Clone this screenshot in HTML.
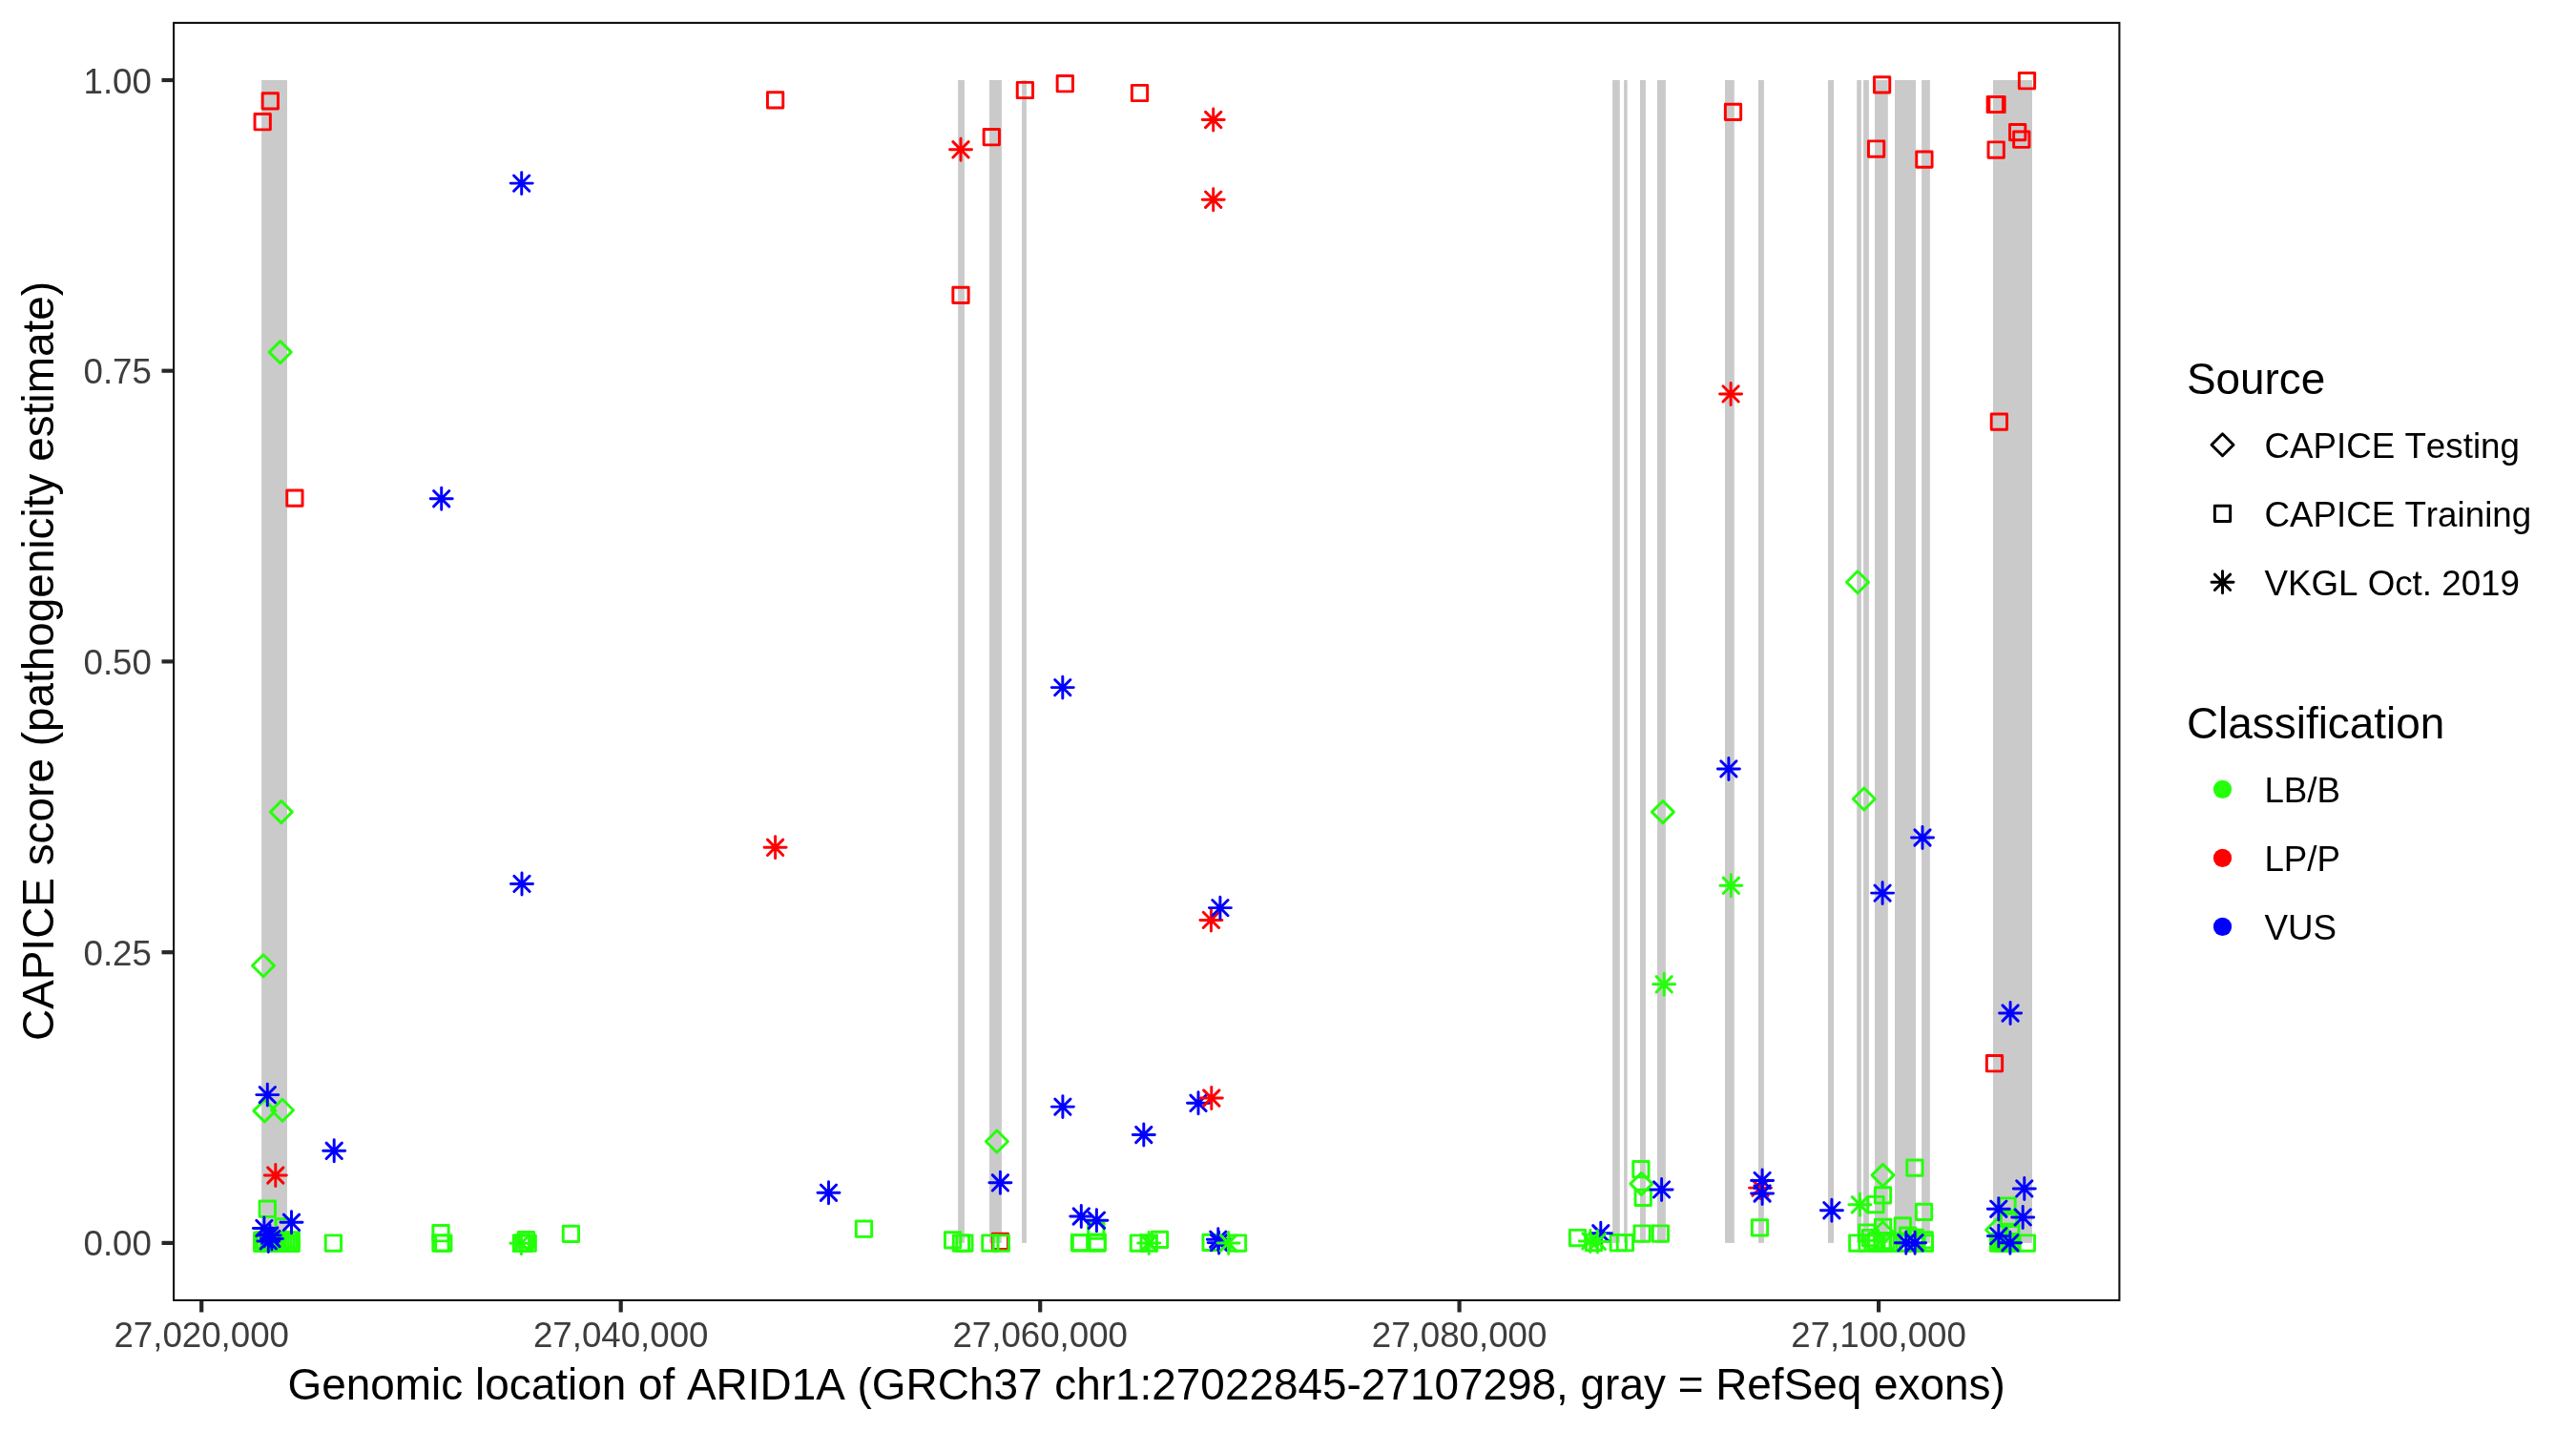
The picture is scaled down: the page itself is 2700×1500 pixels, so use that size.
<!DOCTYPE html>
<html lang="en"><head><meta charset="utf-8"><title>CAPICE score ARID1A</title>
<style>
html,body{margin:0;padding:0;background:#fff}
svg{display:block;will-change:transform}
text{font-family:"Liberation Sans",Arial,Helvetica,sans-serif;font-kerning:none;font-variant-ligatures:none}
.ax{font-size:36.7px;fill:#3D3D3D}
.ti{font-size:45.92px;fill:#000}
.lg{font-size:36.76px;fill:#000}
</style></head><body>
<svg width="2700" height="1500" viewBox="0 0 2700 1500">
<rect x="0" y="0" width="2700" height="1500" fill="#fff"/>

<g fill="#CACACA">
<rect x="274.1" y="84.0" width="26.9" height="1218.9"/>
<rect x="1004.1" y="84.0" width="6.8" height="1218.9"/>
<rect x="1037.0" y="84.0" width="12.9" height="1218.9"/>
<rect x="1071.1" y="84.0" width="4.8" height="1218.9"/>
<rect x="1690.1" y="84.0" width="7.7" height="1218.9"/>
<rect x="1702.1" y="84.0" width="3.6" height="1218.9"/>
<rect x="1719.0" y="84.0" width="5.9" height="1218.9"/>
<rect x="1737.0" y="84.0" width="8.9" height="1218.9"/>
<rect x="1808.0" y="84.0" width="9.8" height="1218.9"/>
<rect x="1843.0" y="84.0" width="5.9" height="1218.9"/>
<rect x="1916.0" y="84.0" width="6.0" height="1218.9"/>
<rect x="1946.2" y="84.0" width="4.7" height="1218.9"/>
<rect x="1953.1" y="84.0" width="5.8" height="1218.9"/>
<rect x="1965.0" y="84.0" width="13.8" height="1218.9"/>
<rect x="1986.0" y="84.0" width="22.0" height="1218.9"/>
<rect x="2014.1" y="84.0" width="8.8" height="1218.9"/>
<rect x="2089.0" y="84.0" width="41.0" height="1218.9"/>
</g>
<g fill="none" stroke-width="2.95" stroke-linejoin="round" stroke-linecap="round">
<rect x="275.15" y="97.75" width="16.30" height="16.30" stroke="#FF0000"/>
<rect x="267.05" y="119.55" width="16.30" height="16.30" stroke="#FF0000"/>
<rect x="804.45" y="96.75" width="16.30" height="16.30" stroke="#FF0000"/>
<rect x="1031.15" y="135.55" width="16.30" height="16.30" stroke="#FF0000"/>
<rect x="1066.25" y="86.35" width="16.30" height="16.30" stroke="#FF0000"/>
<rect x="1108.15" y="79.55" width="16.30" height="16.30" stroke="#FF0000"/>
<rect x="1186.35" y="89.35" width="16.30" height="16.30" stroke="#FF0000"/>
<rect x="998.85" y="301.15" width="16.30" height="16.30" stroke="#FF0000"/>
<rect x="1808.35" y="109.25" width="16.30" height="16.30" stroke="#FF0000"/>
<rect x="1964.45" y="80.65" width="16.30" height="16.30" stroke="#FF0000"/>
<rect x="1958.45" y="147.85" width="16.30" height="16.30" stroke="#FF0000"/>
<rect x="2008.75" y="158.95" width="16.30" height="16.30" stroke="#FF0000"/>
<rect x="2116.35" y="76.55" width="16.30" height="16.30" stroke="#FF0000"/>
<rect x="2083.15" y="101.35" width="16.30" height="16.30" stroke="#FF0000"/>
<rect x="2084.85" y="101.35" width="16.30" height="16.30" stroke="#FF0000"/>
<rect x="2106.55" y="130.45" width="16.30" height="16.30" stroke="#FF0000"/>
<rect x="2110.65" y="138.05" width="16.30" height="16.30" stroke="#FF0000"/>
<rect x="2084.05" y="148.85" width="16.30" height="16.30" stroke="#FF0000"/>
<rect x="300.75" y="513.95" width="16.30" height="16.30" stroke="#FF0000"/>
<rect x="2087.25" y="434.05" width="16.30" height="16.30" stroke="#FF0000"/>
<rect x="2082.35" y="1106.55" width="16.30" height="16.30" stroke="#FF0000"/>
<rect x="1040.25" y="1293.15" width="16.30" height="16.30" stroke="#FF0000"/>
<path d="M282.20 369.10L293.70 357.60L305.20 369.10L293.70 380.60Z" stroke="#24FF0A"/>
<path d="M1935.50 610.20L1947.00 598.70L1958.50 610.20L1947.00 621.70Z" stroke="#24FF0A"/>
<path d="M283.30 851.10L294.80 839.60L306.30 851.10L294.80 862.60Z" stroke="#24FF0A"/>
<path d="M264.50 1012.20L276.00 1000.70L287.50 1012.20L276.00 1023.70Z" stroke="#24FF0A"/>
<path d="M265.80 1164.40L277.30 1152.90L288.80 1164.40L277.30 1175.90Z" stroke="#24FF0A"/>
<path d="M284.50 1163.70L296.00 1152.20L307.50 1163.70L296.00 1175.20Z" stroke="#24FF0A"/>
<path d="M1731.40 851.10L1742.90 839.60L1754.40 851.10L1742.90 862.60Z" stroke="#24FF0A"/>
<path d="M1942.30 837.50L1953.80 826.00L1965.30 837.50L1953.80 849.00Z" stroke="#24FF0A"/>
<path d="M1033.40 1196.50L1044.90 1185.00L1056.40 1196.50L1044.90 1208.00Z" stroke="#24FF0A"/>
<path d="M1708.90 1240.90L1720.40 1229.40L1731.90 1240.90L1720.40 1252.40Z" stroke="#24FF0A"/>
<path d="M1962.00 1231.90L1973.50 1220.40L1985.00 1231.90L1973.50 1243.40Z" stroke="#24FF0A"/>
<path d="M1961.90 1292.20L1973.40 1280.70L1984.90 1292.20L1973.40 1303.70Z" stroke="#24FF0A"/>
<path d="M2081.60 1289.30L2093.10 1277.80L2104.60 1289.30L2093.10 1300.80Z" stroke="#24FF0A"/>
<rect x="272.15" y="1259.05" width="16.30" height="16.30" stroke="#24FF0A"/>
<rect x="289.05" y="1277.75" width="16.30" height="16.30" stroke="#24FF0A"/>
<rect x="266.65" y="1295.15" width="16.30" height="16.30" stroke="#24FF0A"/>
<rect x="266.65" y="1291.85" width="16.30" height="16.30" stroke="#24FF0A"/>
<rect x="297.05" y="1291.85" width="16.30" height="16.30" stroke="#24FF0A"/>
<rect x="269.35" y="1291.85" width="16.30" height="16.30" stroke="#24FF0A"/>
<rect x="272.85" y="1295.15" width="16.30" height="16.30" stroke="#24FF0A"/>
<rect x="275.85" y="1291.85" width="16.30" height="16.30" stroke="#24FF0A"/>
<rect x="278.85" y="1295.15" width="16.30" height="16.30" stroke="#24FF0A"/>
<rect x="282.35" y="1291.85" width="16.30" height="16.30" stroke="#24FF0A"/>
<rect x="285.35" y="1295.15" width="16.30" height="16.30" stroke="#24FF0A"/>
<rect x="288.35" y="1291.85" width="16.30" height="16.30" stroke="#24FF0A"/>
<rect x="291.35" y="1295.15" width="16.30" height="16.30" stroke="#24FF0A"/>
<rect x="294.35" y="1291.85" width="16.30" height="16.30" stroke="#24FF0A"/>
<rect x="297.05" y="1295.15" width="16.30" height="16.30" stroke="#24FF0A"/>
<rect x="341.25" y="1294.85" width="16.30" height="16.30" stroke="#24FF0A"/>
<rect x="453.85" y="1284.55" width="16.30" height="16.30" stroke="#24FF0A"/>
<rect x="453.85" y="1294.85" width="16.30" height="16.30" stroke="#24FF0A"/>
<rect x="456.65" y="1294.85" width="16.30" height="16.30" stroke="#24FF0A"/>
<rect x="538.35" y="1294.85" width="16.30" height="16.30" stroke="#24FF0A"/>
<rect x="540.85" y="1294.85" width="16.30" height="16.30" stroke="#24FF0A"/>
<rect x="545.05" y="1294.85" width="16.30" height="16.30" stroke="#24FF0A"/>
<rect x="543.25" y="1291.55" width="16.30" height="16.30" stroke="#24FF0A"/>
<rect x="590.25" y="1285.25" width="16.30" height="16.30" stroke="#24FF0A"/>
<rect x="897.35" y="1280.05" width="16.30" height="16.30" stroke="#24FF0A"/>
<rect x="990.45" y="1291.75" width="16.30" height="16.30" stroke="#24FF0A"/>
<rect x="999.25" y="1294.85" width="16.30" height="16.30" stroke="#24FF0A"/>
<rect x="1002.75" y="1294.85" width="16.30" height="16.30" stroke="#24FF0A"/>
<rect x="1029.75" y="1294.85" width="16.30" height="16.30" stroke="#24FF0A"/>
<rect x="1041.15" y="1294.85" width="16.30" height="16.30" stroke="#24FF0A"/>
<rect x="1140.65" y="1281.85" width="16.30" height="16.30" stroke="#24FF0A"/>
<rect x="1123.35" y="1294.35" width="16.30" height="16.30" stroke="#24FF0A"/>
<rect x="1124.35" y="1294.65" width="16.30" height="16.30" stroke="#24FF0A"/>
<rect x="1141.85" y="1294.85" width="16.30" height="16.30" stroke="#24FF0A"/>
<rect x="1142.15" y="1293.85" width="16.30" height="16.30" stroke="#24FF0A"/>
<rect x="1185.25" y="1294.85" width="16.30" height="16.30" stroke="#24FF0A"/>
<rect x="1196.05" y="1294.85" width="16.30" height="16.30" stroke="#24FF0A"/>
<rect x="1207.35" y="1291.15" width="16.30" height="16.30" stroke="#24FF0A"/>
<rect x="1260.95" y="1294.15" width="16.30" height="16.30" stroke="#24FF0A"/>
<rect x="1289.35" y="1294.85" width="16.30" height="16.30" stroke="#24FF0A"/>
<rect x="1645.35" y="1289.35" width="16.30" height="16.30" stroke="#24FF0A"/>
<rect x="1662.45" y="1294.35" width="16.30" height="16.30" stroke="#24FF0A"/>
<rect x="1688.15" y="1294.55" width="16.30" height="16.30" stroke="#24FF0A"/>
<rect x="1695.25" y="1294.55" width="16.30" height="16.30" stroke="#24FF0A"/>
<rect x="1712.95" y="1284.85" width="16.30" height="16.30" stroke="#24FF0A"/>
<rect x="1732.25" y="1284.85" width="16.30" height="16.30" stroke="#24FF0A"/>
<rect x="1711.75" y="1217.55" width="16.30" height="16.30" stroke="#24FF0A"/>
<rect x="1714.05" y="1247.15" width="16.30" height="16.30" stroke="#24FF0A"/>
<rect x="1836.35" y="1278.65" width="16.30" height="16.30" stroke="#24FF0A"/>
<rect x="1957.85" y="1254.35" width="16.30" height="16.30" stroke="#24FF0A"/>
<rect x="1965.35" y="1244.65" width="16.30" height="16.30" stroke="#24FF0A"/>
<rect x="1998.75" y="1215.95" width="16.30" height="16.30" stroke="#24FF0A"/>
<rect x="2008.35" y="1262.25" width="16.30" height="16.30" stroke="#24FF0A"/>
<rect x="1965.45" y="1278.25" width="16.30" height="16.30" stroke="#24FF0A"/>
<rect x="1986.15" y="1276.75" width="16.30" height="16.30" stroke="#24FF0A"/>
<rect x="1948.65" y="1284.05" width="16.30" height="16.30" stroke="#24FF0A"/>
<rect x="1938.65" y="1294.85" width="16.30" height="16.30" stroke="#24FF0A"/>
<rect x="1948.85" y="1294.85" width="16.30" height="16.30" stroke="#24FF0A"/>
<rect x="1957.85" y="1294.85" width="16.30" height="16.30" stroke="#24FF0A"/>
<rect x="1964.85" y="1294.85" width="16.30" height="16.30" stroke="#24FF0A"/>
<rect x="1971.85" y="1294.85" width="16.30" height="16.30" stroke="#24FF0A"/>
<rect x="1981.85" y="1294.85" width="16.30" height="16.30" stroke="#24FF0A"/>
<rect x="1991.45" y="1294.85" width="16.30" height="16.30" stroke="#24FF0A"/>
<rect x="2000.85" y="1294.85" width="16.30" height="16.30" stroke="#24FF0A"/>
<rect x="2009.35" y="1294.85" width="16.30" height="16.30" stroke="#24FF0A"/>
<rect x="1991.45" y="1287.05" width="16.30" height="16.30" stroke="#24FF0A"/>
<rect x="1998.95" y="1289.15" width="16.30" height="16.30" stroke="#24FF0A"/>
<rect x="2009.05" y="1291.75" width="16.30" height="16.30" stroke="#24FF0A"/>
<rect x="1952.35" y="1289.35" width="16.30" height="16.30" stroke="#24FF0A"/>
<rect x="1958.75" y="1292.35" width="16.30" height="16.30" stroke="#24FF0A"/>
<rect x="1968.85" y="1292.35" width="16.30" height="16.30" stroke="#24FF0A"/>
<rect x="2095.85" y="1255.85" width="16.30" height="16.30" stroke="#24FF0A"/>
<rect x="2097.35" y="1269.15" width="16.30" height="16.30" stroke="#24FF0A"/>
<rect x="2099.65" y="1283.25" width="16.30" height="16.30" stroke="#24FF0A"/>
<rect x="2088.35" y="1293.35" width="16.30" height="16.30" stroke="#24FF0A"/>
<rect x="2093.35" y="1293.35" width="16.30" height="16.30" stroke="#24FF0A"/>
<rect x="2098.85" y="1293.35" width="16.30" height="16.30" stroke="#24FF0A"/>
<rect x="2086.35" y="1294.85" width="16.30" height="16.30" stroke="#24FF0A"/>
<rect x="2090.85" y="1294.85" width="16.30" height="16.30" stroke="#24FF0A"/>
<rect x="2095.85" y="1294.85" width="16.30" height="16.30" stroke="#24FF0A"/>
<rect x="2100.85" y="1294.85" width="16.30" height="16.30" stroke="#24FF0A"/>
<rect x="2116.25" y="1294.85" width="16.30" height="16.30" stroke="#24FF0A"/>
<path d="M538.56 183.96L554.84 200.24M538.56 200.24L554.84 183.96M535.20 192.10L558.20 192.10M546.70 180.60L546.70 203.60" stroke="#0000FF"/>
<path d="M998.86 148.66L1015.14 164.94M998.86 164.94L1015.14 148.66M995.50 156.80L1018.50 156.80M1007.00 145.30L1007.00 168.30" stroke="#FF0000"/>
<path d="M1263.56 117.36L1279.84 133.64M1263.56 133.64L1279.84 117.36M1260.20 125.50L1283.20 125.50M1271.70 114.00L1271.70 137.00" stroke="#FF0000"/>
<path d="M1263.56 201.06L1279.84 217.34M1263.56 217.34L1279.84 201.06M1260.20 209.20L1283.20 209.20M1271.70 197.70L1271.70 220.70" stroke="#FF0000"/>
<path d="M454.56 514.56L470.84 530.84M454.56 530.84L470.84 514.56M451.20 522.70L474.20 522.70M462.70 511.20L462.70 534.20" stroke="#0000FF"/>
<path d="M1105.66 712.46L1121.94 728.74M1105.66 728.74L1121.94 712.46M1102.30 720.60L1125.30 720.60M1113.80 709.10L1113.80 732.10" stroke="#0000FF"/>
<path d="M1805.96 404.76L1822.24 421.04M1805.96 421.04L1822.24 404.76M1802.60 412.90L1825.60 412.90M1814.10 401.40L1814.10 424.40" stroke="#FF0000"/>
<path d="M538.86 918.26L555.14 934.54M538.86 934.54L555.14 918.26M535.50 926.40L558.50 926.40M547.00 914.90L547.00 937.90" stroke="#0000FF"/>
<path d="M804.46 880.16L820.74 896.44M804.46 896.44L820.74 880.16M801.10 888.30L824.10 888.30M812.60 876.80L812.60 899.80" stroke="#FF0000"/>
<path d="M272.16 1139.46L288.44 1155.74M272.16 1155.74L288.44 1139.46M268.80 1147.60L291.80 1147.60M280.30 1136.10L280.30 1159.10" stroke="#0000FF"/>
<path d="M1261.26 956.26L1277.54 972.54M1261.26 972.54L1277.54 956.26M1257.90 964.40L1280.90 964.40M1269.40 952.90L1269.40 975.90" stroke="#FF0000"/>
<path d="M1270.76 943.46L1287.04 959.74M1270.76 959.74L1287.04 943.46M1267.40 951.60L1290.40 951.60M1278.90 940.10L1278.90 963.10" stroke="#0000FF"/>
<path d="M1105.76 1151.96L1122.04 1168.24M1105.76 1168.24L1122.04 1151.96M1102.40 1160.10L1125.40 1160.10M1113.90 1148.60L1113.90 1171.60" stroke="#0000FF"/>
<path d="M1247.86 1148.16L1264.14 1164.44M1247.86 1164.44L1264.14 1148.16M1244.50 1156.30L1267.50 1156.30M1256.00 1144.80L1256.00 1167.80" stroke="#0000FF"/>
<path d="M1261.66 1142.86L1277.94 1159.14M1261.66 1159.14L1277.94 1142.86M1258.30 1151.00L1281.30 1151.00M1269.80 1139.50L1269.80 1162.50" stroke="#FF0000"/>
<path d="M1190.66 1181.36L1206.94 1197.64M1190.66 1197.64L1206.94 1181.36M1187.30 1189.50L1210.30 1189.50M1198.80 1178.00L1198.80 1201.00" stroke="#0000FF"/>
<path d="M1803.76 797.76L1820.04 814.04M1803.76 814.04L1820.04 797.76M1800.40 805.90L1823.40 805.90M1811.90 794.40L1811.90 817.40" stroke="#0000FF"/>
<path d="M2006.86 869.86L2023.14 886.14M2006.86 886.14L2023.14 869.86M2003.50 878.00L2026.50 878.00M2015.00 866.50L2015.00 889.50" stroke="#0000FF"/>
<path d="M1806.26 920.16L1822.54 936.44M1806.26 936.44L1822.54 920.16M1802.90 928.30L1825.90 928.30M1814.40 916.80L1814.40 939.80" stroke="#24FF0A"/>
<path d="M1964.96 927.96L1981.24 944.24M1964.96 944.24L1981.24 927.96M1961.60 936.10L1984.60 936.10M1973.10 924.60L1973.10 947.60" stroke="#0000FF"/>
<path d="M1736.06 1023.66L1752.34 1039.94M1736.06 1039.94L1752.34 1023.66M1732.70 1031.80L1755.70 1031.80M1744.20 1020.30L1744.20 1043.30" stroke="#24FF0A"/>
<path d="M2098.96 1053.86L2115.24 1070.14M2098.96 1070.14L2115.24 1053.86M2095.60 1062.00L2118.60 1062.00M2107.10 1050.50L2107.10 1073.50" stroke="#0000FF"/>
<path d="M342.06 1198.16L358.34 1214.44M342.06 1214.44L358.34 1198.16M338.70 1206.30L361.70 1206.30M350.20 1194.80L350.20 1217.80" stroke="#0000FF"/>
<path d="M280.66 1223.86L296.94 1240.14M280.66 1240.14L296.94 1223.86M277.30 1232.00L300.30 1232.00M288.80 1220.50L288.80 1243.50" stroke="#FF0000"/>
<path d="M297.36 1273.16L313.64 1289.44M297.36 1289.44L313.64 1273.16M294.00 1281.30L317.00 1281.30M305.50 1269.80L305.50 1292.80" stroke="#0000FF"/>
<path d="M268.76 1279.26L285.04 1295.54M268.76 1295.54L285.04 1279.26M265.40 1287.40L288.40 1287.40M276.90 1275.90L276.90 1298.90" stroke="#0000FF"/>
<path d="M274.66 1286.86L290.94 1303.14M274.66 1303.14L290.94 1286.86M271.30 1295.00L294.30 1295.00M282.80 1283.50L282.80 1306.50" stroke="#0000FF"/>
<path d="M276.76 1290.36L293.04 1306.64M276.76 1306.64L293.04 1290.36M273.40 1298.50L296.40 1298.50M284.90 1287.00L284.90 1310.00" stroke="#0000FF"/>
<path d="M273.16 1292.76L289.44 1309.04M273.16 1309.04L289.44 1292.76M269.80 1300.90L292.80 1300.90M281.30 1289.40L281.30 1312.40" stroke="#0000FF"/>
<path d="M538.26 1295.06L554.54 1311.34M538.26 1311.34L554.54 1295.06M534.90 1303.20L557.90 1303.20M546.40 1291.70L546.40 1314.70" stroke="#24FF0A"/>
<path d="M860.36 1242.06L876.64 1258.34M860.36 1258.34L876.64 1242.06M857.00 1250.20L880.00 1250.20M868.50 1238.70L868.50 1261.70" stroke="#0000FF"/>
<path d="M1040.26 1231.66L1056.54 1247.94M1040.26 1247.94L1056.54 1231.66M1036.90 1239.80L1059.90 1239.80M1048.40 1228.30L1048.40 1251.30" stroke="#0000FF"/>
<path d="M1125.16 1266.86L1141.44 1283.14M1125.16 1283.14L1141.44 1266.86M1121.80 1275.00L1144.80 1275.00M1133.30 1263.50L1133.30 1286.50" stroke="#0000FF"/>
<path d="M1141.26 1271.06L1157.54 1287.34M1141.26 1287.34L1157.54 1271.06M1137.90 1279.20L1160.90 1279.20M1149.40 1267.70L1149.40 1290.70" stroke="#0000FF"/>
<path d="M1196.06 1294.86L1212.34 1311.14M1196.06 1311.14L1212.34 1294.86M1192.70 1303.00L1215.70 1303.00M1204.20 1291.50L1204.20 1314.50" stroke="#24FF0A"/>
<path d="M1268.66 1291.06L1284.94 1307.34M1268.66 1307.34L1284.94 1291.06M1265.30 1299.20L1288.30 1299.20M1276.80 1287.70L1276.80 1310.70" stroke="#0000FF"/>
<path d="M1269.46 1294.46L1285.74 1310.74M1269.46 1310.74L1285.74 1294.46M1266.10 1302.60L1289.10 1302.60M1277.60 1291.10L1277.60 1314.10" stroke="#0000FF"/>
<path d="M1279.46 1294.86L1295.74 1311.14M1279.46 1311.14L1295.74 1294.86M1276.10 1303.00L1299.10 1303.00M1287.60 1291.50L1287.60 1314.50" stroke="#24FF0A"/>
<path d="M1669.66 1284.66L1685.94 1300.94M1669.66 1300.94L1685.94 1284.66M1666.30 1292.80L1689.30 1292.80M1677.80 1281.30L1677.80 1304.30" stroke="#0000FF"/>
<path d="M1658.76 1292.76L1675.04 1309.04M1658.76 1309.04L1675.04 1292.76M1655.40 1300.90L1678.40 1300.90M1666.90 1289.40L1666.90 1312.40" stroke="#24FF0A"/>
<path d="M1666.26 1293.26L1682.54 1309.54M1666.26 1309.54L1682.54 1293.26M1662.90 1301.40L1685.90 1301.40M1674.40 1289.90L1674.40 1312.90" stroke="#24FF0A"/>
<path d="M1733.46 1238.76L1749.74 1255.04M1733.46 1255.04L1749.74 1238.76M1730.10 1246.90L1753.10 1246.90M1741.60 1235.40L1741.60 1258.40" stroke="#0000FF"/>
<path d="M1836.86 1236.96L1853.14 1253.24M1836.86 1253.24L1853.14 1236.96M1833.50 1245.10L1856.50 1245.10M1845.00 1233.60L1845.00 1256.60" stroke="#FF0000"/>
<path d="M1838.96 1229.26L1855.24 1245.54M1838.96 1245.54L1855.24 1229.26M1835.60 1237.40L1858.60 1237.40M1847.10 1225.90L1847.10 1248.90" stroke="#0000FF"/>
<path d="M1838.96 1242.86L1855.24 1259.14M1838.96 1259.14L1855.24 1242.86M1835.60 1251.00L1858.60 1251.00M1847.10 1239.50L1847.10 1262.50" stroke="#0000FF"/>
<path d="M1911.76 1260.56L1928.04 1276.84M1911.76 1276.84L1928.04 1260.56M1908.40 1268.70L1931.40 1268.70M1919.90 1257.20L1919.90 1280.20" stroke="#0000FF"/>
<path d="M1941.26 1254.66L1957.54 1270.94M1941.26 1270.94L1957.54 1254.66M1937.90 1262.80L1960.90 1262.80M1949.40 1251.30L1949.40 1274.30" stroke="#24FF0A"/>
<path d="M1989.66 1294.56L2005.94 1310.84M1989.66 1310.84L2005.94 1294.56M1986.30 1302.70L2009.30 1302.70M1997.80 1291.20L1997.80 1314.20" stroke="#0000FF"/>
<path d="M1998.96 1294.56L2015.24 1310.84M1998.96 1310.84L2015.24 1294.56M1995.60 1302.70L2018.60 1302.70M2007.10 1291.20L2007.10 1314.20" stroke="#0000FF"/>
<path d="M2113.66 1237.76L2129.94 1254.04M2113.66 1254.04L2129.94 1237.76M2110.30 1245.90L2133.30 1245.90M2121.80 1234.40L2121.80 1257.40" stroke="#0000FF"/>
<path d="M2086.66 1259.06L2102.94 1275.34M2086.66 1275.34L2102.94 1259.06M2083.30 1267.20L2106.30 1267.20M2094.80 1255.70L2094.80 1278.70" stroke="#0000FF"/>
<path d="M2112.06 1267.76L2128.34 1284.04M2112.06 1284.04L2128.34 1267.76M2108.70 1275.90L2131.70 1275.90M2120.20 1264.40L2120.20 1287.40" stroke="#0000FF"/>
<path d="M2086.66 1287.46L2102.94 1303.74M2086.66 1303.74L2102.94 1287.46M2083.30 1295.60L2106.30 1295.60M2094.80 1284.10L2094.80 1307.10" stroke="#0000FF"/>
<path d="M2098.76 1294.56L2115.04 1310.84M2098.76 1310.84L2115.04 1294.56M2095.40 1302.70L2118.40 1302.70M2106.90 1291.20L2106.90 1314.20" stroke="#0000FF"/>
</g>
<rect x="182.1" y="23.95" width="2039.3" height="1339.0" fill="none" stroke="#111111" stroke-width="2.1"/>
<g stroke="#272727" stroke-width="4.2">
<line x1="169.5" y1="84.0" x2="181" y2="84.0"/>
<line x1="169.5" y1="388.7" x2="181" y2="388.7"/>
<line x1="169.5" y1="693.4" x2="181" y2="693.4"/>
<line x1="169.5" y1="998.2" x2="181" y2="998.2"/>
<line x1="169.5" y1="1302.9" x2="181" y2="1302.9"/>
<line x1="211.2" y1="1363.9" x2="211.2" y2="1375.5"/>
<line x1="650.7" y1="1363.9" x2="650.7" y2="1375.5"/>
<line x1="1090.2" y1="1363.9" x2="1090.2" y2="1375.5"/>
<line x1="1529.6" y1="1363.9" x2="1529.6" y2="1375.5"/>
<line x1="1969.1" y1="1363.9" x2="1969.1" y2="1375.5"/>
</g>
<text class="ax" x="158.9" y="97.5" text-anchor="end">1.00</text>
<text class="ax" x="158.9" y="402.2" text-anchor="end">0.75</text>
<text class="ax" x="158.9" y="706.9" text-anchor="end">0.50</text>
<text class="ax" x="158.9" y="1011.7" text-anchor="end">0.25</text>
<text class="ax" x="158.9" y="1316.4" text-anchor="end">0.00</text>
<text class="ax" x="211.2" y="1411.6" text-anchor="middle">27,020,000</text>
<text class="ax" x="650.7" y="1411.6" text-anchor="middle">27,040,000</text>
<text class="ax" x="1090.2" y="1411.6" text-anchor="middle">27,060,000</text>
<text class="ax" x="1529.6" y="1411.6" text-anchor="middle">27,080,000</text>
<text class="ax" x="1969.1" y="1411.6" text-anchor="middle">27,100,000</text>
<text class="ti" x="1201.7" y="1466.6" text-anchor="middle">Genomic location of ARID1A (GRCh37 chr1:27022845-27107298, gray = RefSeq exons)</text>
<text class="ti" transform="translate(55.8,693.0) rotate(-90)" text-anchor="middle">CAPICE score (pathogenicity estimate)</text>
<text class="ti" x="2291.9" y="412.9">Source</text>
<g fill="none" stroke-width="2.95" stroke-linejoin="round" stroke-linecap="round">
<path d="M2318.00 466.20L2329.50 454.70L2341.00 466.20L2329.50 477.70Z" stroke="#000"/>
<rect x="2321.35" y="530.15" width="16.30" height="16.30" stroke="#000"/>
<path d="M2321.36 602.16L2337.64 618.44M2321.36 618.44L2337.64 602.16M2318.00 610.30L2341.00 610.30M2329.50 598.80L2329.50 621.80" stroke="#000"/>
</g>
<text class="lg" x="2373.4" y="480.2">CAPICE Testing</text>
<text class="lg" x="2373.4" y="552.2">CAPICE Training</text>
<text class="lg" x="2373.4" y="624.2">VKGL Oct. 2019</text>
<text class="ti" x="2291.9" y="773.5">Classification</text>
<circle cx="2329.5" cy="827.4" r="9.6" fill="#24FF0A"/>
<circle cx="2329.5" cy="899.4" r="9.6" fill="#FF0000"/>
<circle cx="2329.5" cy="971.4" r="9.6" fill="#0000FF"/>
<text class="lg" x="2373.4" y="840.9">LB/B</text>
<text class="lg" x="2373.4" y="912.9">LP/P</text>
<text class="lg" x="2373.4" y="984.9">VUS</text>
</svg></body></html>
